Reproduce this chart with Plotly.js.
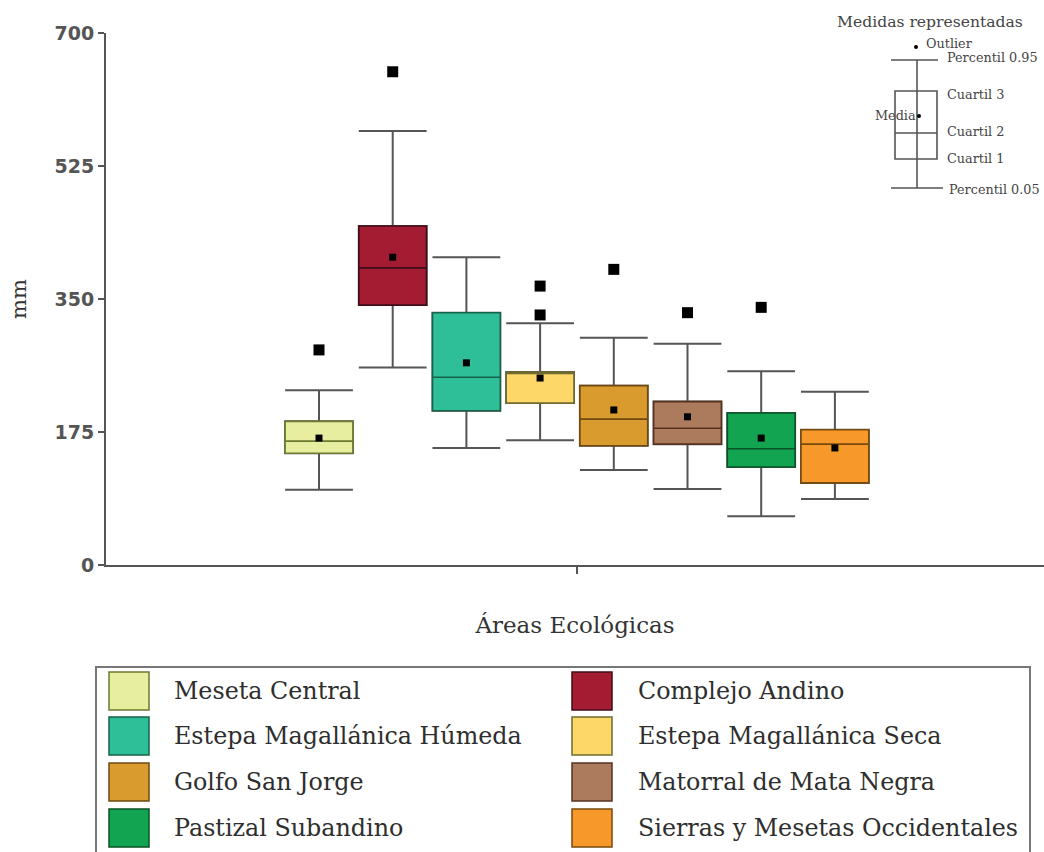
<!DOCTYPE html>
<html>
<head>
<meta charset="utf-8">
<script src="https://cdn.plot.ly/plotly-3.0.1.min.js"></script>
<style>html,body{margin:0;padding:0;background:#fff;}#chart{width:1044px;height:852px;}</style>
</head>
<body>
<div id="chart"></div>
<script>
// ---- data (mm) ----
const regions = ['Meseta Central', 'Complejo Andino', 'Estepa Magallánica Húmeda', 'Estepa Magallánica Seca',
                 'Golfo San Jorge', 'Matorral de Mata Negra', 'Pastizal Subandino', 'Sierras y Mesetas Occidentales'];
const p05    = [99, 260, 154, 164, 125, 100, 64, 87];
const q1     = [147, 342, 203, 213, 157, 159, 129, 108];
const median = [163, 391, 247, 252, 192, 180, 153, 159];
const q3     = [189, 446, 332, 254, 236, 215, 200, 178];
const p95    = [230, 571, 405, 318, 299, 291, 255, 228];
const mean   = [167, 405, 266, 246, 204, 195, 167, 154];
const outlierRegion = [0, 1, 3, 3, 4, 5, 6];
const outlierValue  = [283, 649, 367, 329, 389, 332, 339];
const yTicks = [0, 175, 350, 525, 700];

const fills    = ['#e7ee9f', '#a31c32', '#2fbf98', '#fdd767', '#d99a2e', '#ac7a5c', '#13a452', '#f7992a'];
const outlines = ['#6f7a30', '#3e0c18', '#17624a', '#6e6a30', '#6e4a12', '#55321f', '#0a5226', '#7a4a0c'];

// ---- layout helpers (pixel -> paper) ----
const L = 106, R = 1044, T = 33, B = 565;
const px = x => (x - L) / (R - L);
const py = y => (B - y) / (B - T);
const unit = 73.7;           // px per box slot
const firstCenter = 319;      // px of first box
const xMin = (L - firstCenter) / unit, xMax = (R - firstCenter) / unit;

const traces = [];
regions.forEach((name, i) => {
  // whiskers (grey)
  traces.push({
    type: 'box', name: name, x: [i], q1: [q1[i]], median: [median[i]], q3: [q3[i]],
    lowerfence: [p05[i]], upperfence: [p95[i]],
    width: 0.92, whiskerwidth: 1, fillcolor: fills[i],
    line: {color: '#555555', width: 2}, hoverinfo: 'skip', showlegend: false
  });
  // coloured box
  traces.push({
    type: 'box', name: name, x: [i], q1: [q1[i]], median: [median[i]], q3: [q3[i]],
    lowerfence: [q1[i]], upperfence: [q3[i]],
    width: 0.92, whiskerwidth: 0, fillcolor: fills[i],
    line: {color: outlines[i], width: 1.6}, hoverinfo: 'skip', showlegend: false
  });
});
traces.push({
  type: 'scatter', mode: 'markers', x: regions.map((_, i) => i), y: mean,
  marker: {symbol: 'square', size: 7, color: '#000'}, hoverinfo: 'skip', showlegend: false
});
traces.push({
  type: 'scatter', mode: 'markers', x: outlierRegion, y: outlierValue,
  marker: {symbol: 'square', size: 11, color: '#000'}, hoverinfo: 'skip', showlegend: false
});

const shapes = [];
const annotations = [];
const gray = '#555555';
function line(x0, y0, x1, y1, w, c) {
  shapes.push({type: 'line', xref: 'paper', yref: 'paper', x0: px(x0), y0: py(y0), x1: px(x1), y1: py(y1),
               line: {color: c || gray, width: w || 1.5}});
}
function rect(x0, y0, x1, y1, fill, lc, w) {
  shapes.push({type: 'rect', xref: 'paper', yref: 'paper', x0: px(x0), y0: py(y0), x1: px(x1), y1: py(y1),
               fillcolor: fill, line: {color: lc, width: w}});
}
function text(t, x, y, size, anchor, color, family) {
  annotations.push({text: t, xref: 'paper', yref: 'paper', x: px(x), y: py(y), showarrow: false,
                    xanchor: anchor || 'left', yanchor: 'middle',
                    font: {family: family || 'DejaVu Serif', size: size, color: color || '#444'}});
}

// ---- inset: "Medidas representadas" ----
text('Medidas representadas', 930, 22, 15.6, 'center', '#444');
line(891, 60, 938, 60, 1.6);
line(891, 188, 943, 188, 1.6);
line(917, 60, 917, 188, 1.6);
rect(895, 91, 937, 159, 'rgba(0,0,0,0)', gray, 1.6);
line(895, 133, 937, 133, 1.6);
shapes.push({type: 'circle', xref: 'paper', yref: 'paper', x0: px(917), y0: py(118), x1: px(921), y1: py(114),
             fillcolor: '#000', line: {color: '#000', width: 0}});
shapes.push({type: 'circle', xref: 'paper', yref: 'paper', x0: px(914), y0: py(49), x1: px(918), y1: py(45),
             fillcolor: '#000', line: {color: '#000', width: 0}});
text('Outlier', 924, 43, 12.8);
text('Percentil 0.95', 945, 57, 12.8);
text('Cuartil 3', 945, 95, 12.8);
text('Media', 918, 115, 12.8, 'right');
text('Cuartil 2', 945, 131, 12.8);
text('Cuartil 1', 945, 159, 12.8);
text('Percentil 0.05', 947, 189, 12.8);

// ---- bottom legend ----
rect(96, 667, 1030, 870, 'rgba(0,0,0,0)', '#777777', 2);
const rowY = [691, 736, 782, 828];
const colSw = [109, 572], colTx = [172, 636];
regions.forEach((name, i) => {
  const col = i % 2, row = Math.floor(i / 2);
  rect(colSw[col], rowY[row] - 19, colSw[col] + 40, rowY[row] + 19, fills[i], outlines[i], 1.5);
  text(name, colTx[col], rowY[row], 23.8, 'left', '#2e2e2e');
});

const layout = {
  width: 1044, height: 852,
  margin: {l: L, r: 1044 - R, t: T, b: 852 - B, pad: 0},
  paper_bgcolor: '#fff', plot_bgcolor: '#fff',
  showlegend: false,
  xaxis: {range: [xMin, xMax], tickvals: [3.5], showticklabels: false, ticks: 'outside', ticklen: 7,
          tickwidth: 2, tickcolor: gray, showline: true, linecolor: gray, linewidth: 2, showgrid: false,
          zeroline: false, fixedrange: true,
          title: {text: 'Áreas Ecológicas', standoff: 44, font: {family: 'DejaVu Serif', size: 23, color: '#333'}}},
  yaxis: {range: [0, 700], tickvals: yTicks, ticks: 'outside', ticklen: 6, tickwidth: 2, tickcolor: gray,
          showline: true, linecolor: gray, linewidth: 2, showgrid: false, zeroline: false, fixedrange: true,
          tickfont: {family: 'DejaVu Sans', size: 19, color: '#555', weight: 'bold'},
          title: {text: 'mm', standoff: 22, font: {family: 'DejaVu Serif', size: 21, color: '#333'}}},
  shapes: shapes, annotations: annotations
};
Plotly.newPlot('chart', traces, layout, {displayModeBar: false, staticPlot: true});
</script>
</body>
</html>
